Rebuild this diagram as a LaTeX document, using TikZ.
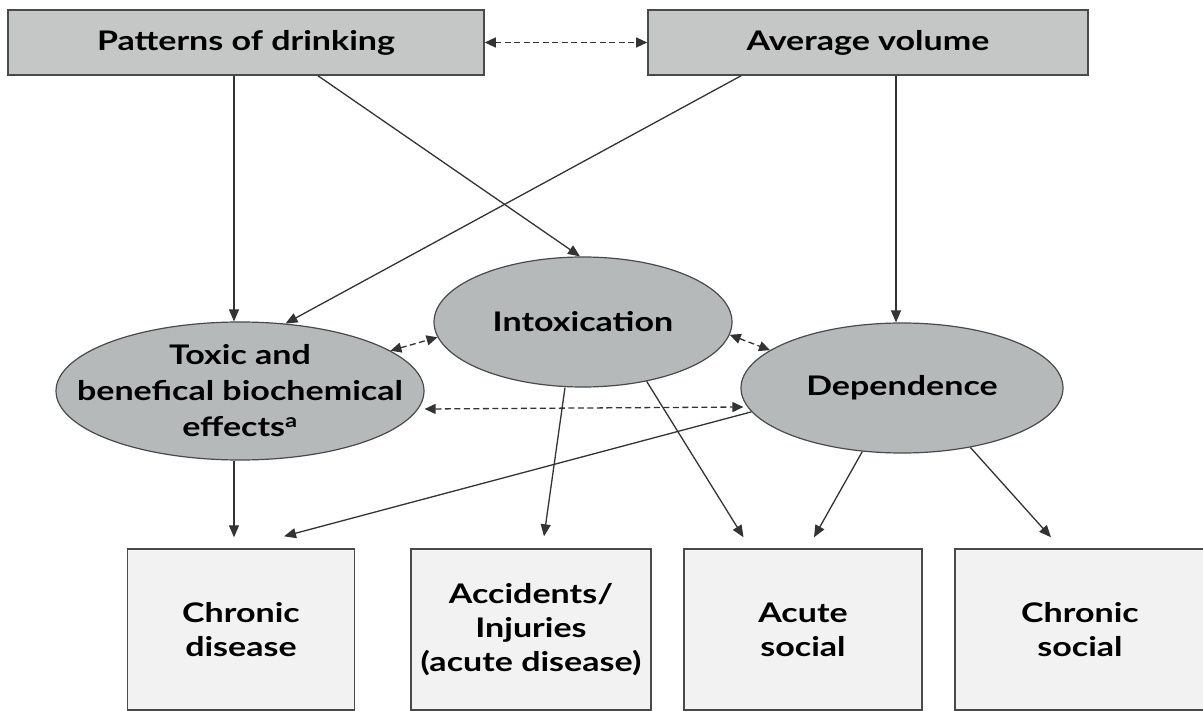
\documentclass[tikz,border=0pt]{standalone}
\usepackage{fontspec}
\setmainfont{Lato}[FakeStretch=1.26]
\usetikzlibrary{arrows.meta,shapes.geometric}
\definecolor{topfill}{HTML}{C5C7C7}
\definecolor{ellfill}{HTML}{B6B9BA}
\definecolor{botfill}{HTML}{F2F2F2}
\definecolor{edgecol}{HTML}{4A4A4A}
\definecolor{linecol}{HTML}{333333}
\begin{document}
\begin{tikzpicture}[x=1pt,y=-1pt,
  lbl/.style={font=\fontsize{27}{34}\selectfont\bfseries, text=black, align=center},
  topbox/.style={lbl, draw=edgecol, fill=topfill, line width=1.6pt, rectangle, inner sep=0pt, minimum height=65pt},
  ellnode/.style={lbl, draw=edgecol, fill=ellfill, line width=1.2pt, ellipse, inner sep=0pt},
  botbox/.style={lbl, draw=edgecol, fill=botfill, line width=1.4pt, rectangle, inner sep=0pt, minimum height=161pt},
  arr/.style={draw=linecol, line width=1.3pt, -{Triangle[length=12pt,width=10pt]}},
  darr/.style={draw=linecol, line width=1.3pt, dash pattern=on 6pt off 3.5pt, {Triangle[length=11pt,width=10pt]}-{Triangle[length=11pt,width=10pt]}}
]
\useasboundingbox (0,0) rectangle (1203,711);

% top boxes
\node[topbox, minimum width=476pt] (P) at (246,42.5) {Patterns of drinking};
\node[topbox, minimum width=440pt] (A) at (868,42.5) {Average volume};

% ellipses
\node[ellnode, minimum width=368pt, minimum height=138pt] (T) at (240,391) {};
\node[lbl, font=\fontsize{27}{36}\selectfont\bfseries, inner sep=0pt] (Tt) at (T.center) {Toxic and\\benefical biochemical\\effects\textsuperscript{a}};
\node[ellnode, minimum width=298pt, minimum height=130pt] (I) at (583,322) {Intoxication};
\node[ellnode, minimum width=322pt, minimum height=130pt] (D) at (902,388) {Dependence};

% bottom boxes
\node[botbox, minimum width=227pt] (C) at (241,629.5) {Chronic\\disease};
\node[botbox, minimum width=240pt] (X) at (531,629.5) {Accidents/\\Injuries\\(acute disease)};
\node[botbox, minimum width=238pt] (S) at (803,629.5) {Acute\\social};
\node[botbox, minimum width=250pt] (R) at (1080,629.5) {Chronic\\social};

% connectors
\draw[darr] (P.east) -- (A.west);
\draw[arr] ([xshift=-12pt]P.south) -- ([xshift=-6pt]T.north);
\draw[arr] ([xshift=-127pt]A.south) -- (T.56);
\draw[arr] ([xshift=72pt]P.south) -- ([xshift=-3pt]I.north);
\draw[arr] ([xshift=28pt]A.south) -- ([xshift=-6pt]D.north);

\draw[darr] (T.15) -- (I.186);
\draw[darr] (I.355) -- (D.164);
\draw[darr] ([yshift=-18pt]T.east) -- ([xshift=3pt,yshift=-19pt]D.west);

\draw[arr] ([xshift=-6pt]T.south) -- ([xshift=-7pt,yshift=11pt]C.north);
\draw[arr] (D.189) -- ([xshift=43pt,yshift=12pt]C.north);
\draw[arr] ([xshift=-18pt]I.south) -- ([xshift=13pt,yshift=12pt]X.north);
\draw[arr] (I.317) -- ([xshift=-59.5pt,yshift=11pt]S.north);
\draw[arr] (D.238) -- ([xshift=11pt,yshift=11pt]S.north);
\draw[arr] (D.319) -- ([xshift=-29pt,yshift=11pt]R.north);
\end{tikzpicture}
\end{document}
